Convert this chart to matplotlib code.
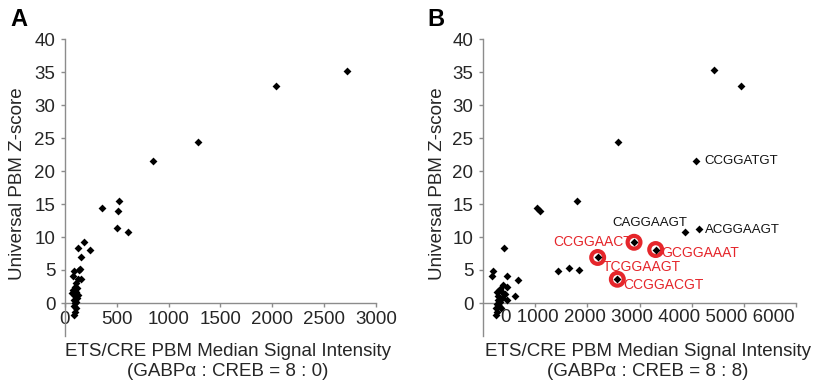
import numpy as np
import matplotlib
matplotlib.use("Agg")
import matplotlib.pyplot as plt

plt.rcParams['font.family'] = ['Liberation Sans', 'DejaVu Sans']

# panel A: GABPa : CREB = 8 : 0
a_x = [2720, 2035, 1283, 849, 354, 521, 511, 498, 605, 183, 125, 238, 151,
       90, 142, 133, 74, 151, 128, 103,
       100, 120, 80, 110, 70, 130, 95, 115, 85, 110, 100, 90, 105, 95, 85]
a_y = [35.2, 32.9, 24.4, 21.5, 14.4, 15.5, 14.0, 11.3, 10.8, 9.2, 8.4, 8.1, 7.0,
       4.9, 5.2, 5.0, 4.1, 3.6, 3.6, 3.0,
       2.5, 2.2, 2.0, 1.7, 1.5, 1.2, 1.0, 0.7, 0.5, 0.2, 0.0, -0.5, -0.8, -1.3, -1.8]

# panel B: GABPa : CREB = 8 : 8
b_x = [4428, 4946, 2582, 4083, 1796, 1029, 1093, 3879, 4147,
       2895, 3310, 2198, 2575, 1444, 1655, 1847,
       409, 198, 173, 454, 665, 620, 390, 466, 326, 262, 364, 422, 294, 370,
       466, 281, 326, 268, 313, 249, 345, 262, 243]
b_y = [35.3, 32.9, 24.4, 21.5, 15.5, 14.4, 14.0, 10.8, 11.2,
       9.2, 8.1, 6.9, 3.6, 4.8, 5.3, 5.0,
       8.4, 4.9, 4.1, 4.1, 3.5, 1.1, 2.7, 2.5, 2.1, 1.7, 1.7, 1.4, 1.1, 0.7,
       0.5, 0.5, 0.2, -0.1, -0.5, -0.8, -0.7, -1.3, -1.8]

# highlighted (red circle) sequences in B
red_x = [2895, 3310, 2198, 2575]
red_y = [9.2, 8.1, 6.9, 3.6]
red_names = ['CCGGAACT', 'GCGGAAAT', 'TCGGAAGT', 'CCGGACGT']
red_pos = [(2860, 9.3, 'right'), (3420, 7.6, 'left'), (2300, 5.4, 'left'), (2690, 2.7, 'left')]

black_names = ['CCGGATGT', 'CAGGAAGT', 'ACGGAAGT']
black_pos = [(4250, 21.5, 'left'), (3910, 12.1, 'right'), (4250, 11.0, 'left')]

y_ticks = [0, 5, 10, 15, 20, 25, 30, 35, 40]
a_xticks = [0, 500, 1000, 1500, 2000, 2500, 3000]
b_xticks = [1000, 2000, 3000, 4000, 5000, 6000]
b_xlabels = "0 1000 2000 3000 4000 5000 6000"

W, H = 816, 390
fig = plt.figure(figsize=(W / 100, H / 100), dpi=100)

axis_col = '#8c8c8c'
txt_col = '#262626'
red = '#e5262b'


def style(ax, xmax):
    ax.set_xlim(0, xmax)
    ax.set_ylim(-5, 40)
    for s in ['top', 'right']:
        ax.spines[s].set_visible(False)
    ax.spines['bottom'].set_position(('data', 0))
    for s in ['left', 'bottom']:
        ax.spines[s].set_color(axis_col)
        ax.spines[s].set_linewidth(1.0)
    ax.set_yticks(y_ticks)
    ax.tick_params(colors=axis_col, labelcolor=txt_col, labelsize=13.5,
                   length=3, width=1.0)
    ax.tick_params(axis='x', pad=3)
    ax.tick_params(axis='y', pad=4)


axA = fig.add_axes([65 / W, 1 - 336 / H, 311 / W, 297 / H])
style(axA, 3000)
axA.set_xticks(a_xticks)
axA.scatter(a_x, a_y, marker='D', s=16, color='black', zorder=3, linewidths=0)

axB = fig.add_axes([483 / W, 1 - 336 / H, 313 / W, 297 / H])
style(axB, 6000)
axB.set_xticks(b_xticks)
axB.set_xticklabels([])
axB.scatter(red_x, red_y, marker='o', s=85, facecolors='none',
            edgecolors=red, linewidths=3, zorder=2)
axB.scatter(b_x, b_y, marker='D', s=16, color='black', zorder=3, linewidths=0)
for name, (x, y, ha) in zip(red_names, red_pos):
    axB.text(x, y, name, color=red, fontsize=10, ha=ha, va='center')
for name, (x, y, ha) in zip(black_names, black_pos):
    axB.text(x, y, name, color='#111111', fontsize=9.5, ha=ha, va='center')
fig.text(795 / W, 1 - 318 / H, b_xlabels, fontsize=13.5, color=txt_col,
         ha='right', va='center')

# labels
for cx, ylx, ratio, letter, lx in [(228, 18, '8 : 0', 'A', 10),
                                   (648, 438, '8 : 8', 'B', 427)]:
    fig.text(cx / W, 1 - 352 / H, 'ETS/CRE PBM Median Signal Intensity',
             fontsize=13.5, color=txt_col, ha='center', va='center')
    fig.text(cx / W, 1 - 371 / H, '(GABPα : CREB = ' + ratio + ')',
             fontsize=13.5, color=txt_col, ha='center', va='center')
    fig.text(ylx / W, 1 - 184 / H, 'Universal PBM Z-score', fontsize=13.5,
             color=txt_col, rotation=90, ha='center', va='center')
    fig.text(lx / W, 1 - 19 / H, letter, fontsize=17, fontweight='bold',
             color='black', ha='left', va='center')

fig.savefig('out.png', dpi=100)
